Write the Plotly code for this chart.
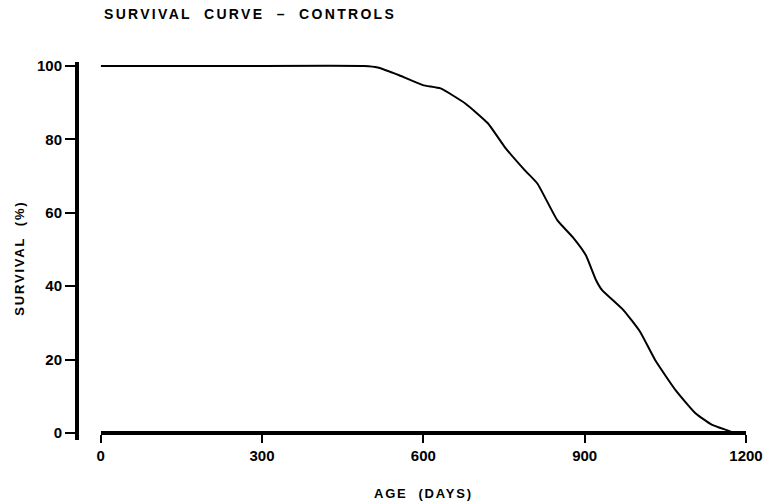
import plotly.graph_objects as go

days = [0, 250, 490, 515, 555, 599, 632, 678, 720, 751, 788, 812, 849, 880, 902,
        921, 932, 972, 1003, 1031, 1069, 1106, 1137, 1168, 1178]
survival = [100, 100, 100, 99.6, 97.5, 94.8, 93.9, 89.8, 84.4, 78.0, 71.7, 68.0, 58.0,
            53.0, 48.5, 41.7, 39.0, 33.5, 27.6, 19.9, 11.7, 5.4, 2.2, 0.6, 0]

x_ticks = [0, 300, 600, 900, 1200]
y_ticks = [0, 20, 40, 60, 80, 100]

title_text = "SURVIVAL  CURVE  –  CONTROLS"
x_title = "AGE  (DAYS)"
y_title = "SURVIVAL  (%)"

FONT = "Liberation Sans Narrow, Arial Narrow, Liberation Sans, Arial, sans-serif"
TFONT = "Liberation Sans, Arial, sans-serif"

fig = go.Figure()
fig.add_trace(go.Scatter(
    x=days, y=survival, mode="lines",
    line=dict(color="black", width=2, shape="spline", smoothing=0.45),
    showlegend=False, hoverinfo="skip",
))

L, R, T, B = 77, 21, 62, 64
W, H = 775, 504
plot_w = W - L - R
x0_frac = (101 - L) / plot_w

fig.update_layout(
    width=W, height=H,
    margin=dict(l=L, r=R, t=T, b=B),
    paper_bgcolor="white", plot_bgcolor="white",
    xaxis=dict(
        domain=[x0_frac, 1], range=[0, 1200],
        tickvals=x_ticks, ticktext=[str(v) for v in x_ticks],
        ticks="outside", ticklen=8, tickwidth=2, tickcolor="black",
        showline=True, linecolor="black", linewidth=4,
        showgrid=False, zeroline=False,
        anchor="free", position=1.9 / 103,
        tickfont=dict(family=FONT, size=15, color="black", weight="bold"),
    ),
    yaxis=dict(
        range=[-1.9, 101.1],
        tickvals=y_ticks, ticktext=[str(v) for v in y_ticks],
        ticks="outside", ticklen=10, tickwidth=2, tickcolor="black",
        showline=True, linecolor="black", linewidth=4,
        showgrid=False, zeroline=False,
        anchor="free", position=0,
        tickfont=dict(family=FONT, size=15, color="black", weight="bold"),
    ),
    annotations=[
        dict(text=f'<span style="letter-spacing:2.3px">{title_text}</span>',
             x=102 / W, y=1 - 14 / H, xref="paper", yref="paper",
             xanchor="left", yanchor="middle", showarrow=False,
             font=dict(family=TFONT, size=14, color="black", weight="bold")),
        dict(text=f'<span style="letter-spacing:1.8px">{x_title}</span>',
             x=428 / W, y=1 - 493 / H, xref="paper", yref="paper",
             xanchor="center", yanchor="middle", showarrow=False,
             font=dict(family=TFONT, size=13, color="black", weight="bold")),
        dict(text=f'<span style="letter-spacing:1.8px">{y_title}</span>',
             x=18 / W, y=1 - 258 / H, xref="paper", yref="paper",
             xanchor="center", yanchor="middle", showarrow=False, textangle=-90,
             font=dict(family=TFONT, size=13, color="black", weight="bold")),
    ],
)
# annotation positions were given in page pixels -> convert to plot-area fractions
for a in fig.layout.annotations:
    px = a.x * W
    py = (1 - a.y) * H
    a.x = (px - L) / plot_w
    a.y = 1 - (py - T) / (H - T - B)

fig.write_html("out.html")
